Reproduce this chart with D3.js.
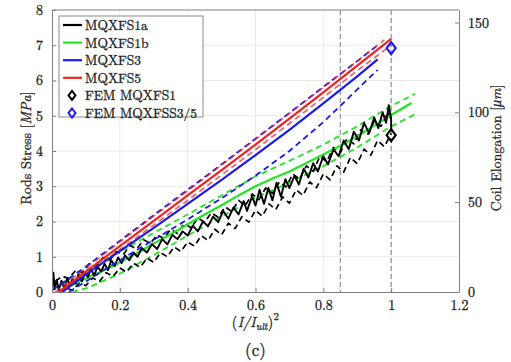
<!DOCTYPE html>
<html>
<head>
<meta charset="utf-8">
<script src="https://cdn.jsdelivr.net/npm/d3@7"></script>
<style>
  html, body { margin: 0; padding: 0; background: #fff; }
  svg { display: block; }
</style>
</head>
<body>
<svg id="chart" width="511" height="362"></svg>
<script>
// Axis ticks
const xTicks = [0, 0.2, 0.4, 0.6, 0.8, 1, 1.2];
const yTicks = [0, 1, 2, 3, 4, 5, 6, 7, 8];
const y2Ticks = [0, 50, 100, 150];
const refLines = [0.85, 1.0];

// Curves: [ (I/Iult)^2 , rod stress MPa ]
const s1aMean = [[0.000,0.05],[0.004,0.55],[0.008,0.08],[0.014,0.35],[0.02,0.05],[0.028,0.32],[0.036,0.1],[0.045,0.4],[0.052,0.18],[0.06,0.36],[0.07,0.24],[0.078,0.5],[0.088,0.3],[0.098,0.55],[0.106,0.42],[0.115,0.66],[0.124,0.46],[0.134,0.72],[0.145,0.58],[0.155,0.8],[0.165,0.62],[0.175,0.9],[0.185,0.74],[0.195,0.98],[0.205,0.82],[0.215,1.04],[0.228,0.9],[0.24,1.12],[0.252,1.0],[0.265,1.24],[0.28,1.12],[0.295,1.36],[0.31,1.22],[0.325,1.5],[0.34,1.35],[0.355,1.62],[0.37,1.5],[0.385,1.72],[0.40,1.6],[0.415,1.88],[0.43,1.72],[0.445,2.0],[0.46,1.86],[0.475,2.14],[0.49,1.98],[0.505,2.3],[0.52,2.08],[0.535,2.4],[0.55,2.2],[0.565,2.58],[0.575,2.3],[0.59,2.72],[0.6,2.45],[0.612,2.9],[0.625,2.5],[0.638,2.95],[0.65,2.6],[0.662,3.1],[0.675,2.7],[0.688,3.2],[0.7,2.95],[0.715,3.3],[0.728,3.05],[0.742,3.5],[0.756,3.25],[0.77,3.65],[0.784,3.42],[0.8,3.85],[0.814,3.62],[0.83,4.05],[0.845,3.85],[0.86,4.3],[0.875,4.05],[0.89,4.55],[0.905,4.3],[0.92,4.8],[0.935,4.5],[0.95,4.95],[0.962,4.65],[0.975,5.1],[0.985,4.8],[0.993,5.3],[1.0,4.9],[1.0,4.55]];
const s1aUpper = [[0.01,0.3],[0.03,0.45],[0.05,0.38],[0.07,0.62],[0.09,0.55],[0.11,0.8],[0.13,0.72],[0.15,0.98],[0.17,0.9],[0.19,1.15],[0.21,1.06],[0.23,1.32],[0.25,1.22],[0.27,1.48],[0.29,1.38],[0.31,1.62],[0.33,1.52],[0.35,1.78],[0.37,1.66],[0.39,1.95],[0.41,1.82],[0.43,2.1],[0.45,1.98],[0.47,2.25],[0.49,2.12],[0.51,2.42],[0.53,2.28],[0.55,2.6],[0.57,2.45],[0.59,2.78],[0.61,2.62],[0.63,2.95],[0.65,2.8],[0.67,3.12],[0.69,2.98],[0.71,3.35],[0.73,3.2],[0.75,3.58],[0.77,3.42],[0.79,3.85],[0.81,3.7],[0.83,4.1],[0.85,3.95],[0.87,4.35],[0.89,4.2],[0.91,4.6],[0.93,4.45],[0.95,4.85],[0.97,4.7],[0.99,5.1],[1.0,4.9]];
const s1aLower = [[0.02,0.0],[0.04,0.12],[0.06,0.05],[0.08,0.25],[0.1,0.18],[0.12,0.4],[0.14,0.3],[0.16,0.55],[0.18,0.44],[0.2,0.68],[0.22,0.56],[0.24,0.82],[0.26,0.7],[0.28,0.96],[0.3,0.84],[0.32,1.12],[0.34,1.0],[0.36,1.28],[0.38,1.15],[0.4,1.42],[0.42,1.3],[0.44,1.6],[0.46,1.46],[0.48,1.78],[0.5,1.62],[0.52,1.95],[0.54,1.8],[0.56,2.14],[0.58,1.98],[0.6,2.32],[0.62,2.15],[0.64,2.5],[0.66,2.34],[0.68,2.7],[0.7,2.52],[0.72,2.9],[0.74,2.74],[0.76,3.12],[0.78,2.96],[0.8,3.35],[0.82,3.18],[0.84,3.58],[0.86,3.4],[0.88,3.82],[0.9,3.64],[0.92,4.05],[0.94,3.88],[0.96,4.3],[0.98,4.12],[1.0,4.5]];

const s1bMean = [[0.02,0.0],[0.04,0.12],[0.06,0.2],[0.08,0.3],[0.10,0.38],[0.12,0.48],[0.14,0.55],[0.16,0.66],[0.18,0.73],[0.20,0.84],[0.25,1.1],[0.30,1.38],[0.35,1.64],[0.40,1.92],[0.45,2.2],[0.50,2.46],[0.55,2.74],[0.60,3.0],[0.65,3.22],[0.70,3.42],[0.75,3.66],[0.80,3.9],[0.85,4.15],[0.90,4.42],[0.95,4.72],[1.00,5.02],[1.06,5.36]];
const s1bUpper = [[0.0,0.05],[0.05,0.35],[0.1,0.62],[0.2,1.15],[0.3,1.68],[0.4,2.2],[0.5,2.74],[0.6,3.28],[0.7,3.72],[0.8,4.18],[0.9,4.7],[1.0,5.28],[1.07,5.62]];
const s1bLower = [[0.06,0.0],[0.1,0.1],[0.2,0.52],[0.3,1.05],[0.4,1.6],[0.5,2.14],[0.6,2.68],[0.7,3.1],[0.8,3.57],[0.9,4.1],[1.0,4.7],[1.07,5.04]];

const s3Mean = [[0.03,0.0],[0.1,0.5],[0.2,1.16],[0.3,1.82],[0.4,2.5],[0.5,3.18],[0.6,3.88],[0.7,4.6],[0.8,5.35],[0.9,6.12],[0.96,6.6]];
const s3Upper = [[0.0,0.05],[0.1,0.72],[0.2,1.45],[0.3,2.18],[0.4,2.9],[0.5,3.62],[0.6,4.35],[0.7,5.08],[0.8,5.82],[0.9,6.55],[0.96,7.0]];
const s3Lower = [[0.05,0.0],[0.1,0.3],[0.2,0.9],[0.3,1.48],[0.4,2.06],[0.5,2.66],[0.6,3.3],[0.7,4.0],[0.8,4.82],[0.85,5.28],[0.9,5.75],[0.96,6.3]];

const s5Mean = [[0.02,0.0],[0.1,0.58],[0.2,1.3],[0.3,2.02],[0.4,2.74],[0.5,3.46],[0.6,4.18],[0.7,4.92],[0.8,5.66],[0.9,6.42],[1.0,7.18]];
const s5Upper = [[0.01,0.0],[0.1,0.68],[0.2,1.42],[0.3,2.15],[0.4,2.87],[0.5,3.6],[0.6,4.33],[0.7,5.07],[0.8,5.8],[0.9,6.55],[0.98,7.15]];
const s5Lower = [[0.03,0.0],[0.1,0.5],[0.2,1.2],[0.3,1.9],[0.4,2.6],[0.5,3.32],[0.6,4.04],[0.7,4.78],[0.8,5.52],[0.9,6.28],[1.0,7.0]];

// FEM points
const femS1 = [[1.0, 4.45]];
const femS35 = [[1.0, 6.92]];

const legendNames = ["MQXFS1a", "MQXFS1b", "MQXFS3", "MQXFS5", "FEM MQXFS1", "FEM MQXFSS3/5"];

const C = { black: "#000000", green: "#22e622", blue: "#1a1af0", red: "#ee2222" };
const FONT = '"Latin Modern Roman", "Liberation Serif", serif';
const TXT = "#222";

const W = 511, H = 362;
const m = { left: 52, right: 52, top: 10, bottom: 70 };
const pw = W - m.left - m.right, ph = H - m.top - m.bottom;

const x = d3.scaleLinear().domain([0, 1.2]).range([m.left, m.left + pw]);
const y = d3.scaleLinear().domain([0, 8]).range([m.top + ph, m.top]);
const y2 = d3.scaleLinear().domain([0, 157]).range([m.top + ph, m.top]);

const svg = d3.select("#chart");
const axisColor = "#808080";

// slightly heavier glyphs for the thin serif face
const textStyle = (sel, size) => sel.attr("font-family", FONT).attr("font-size", size)
  .attr("fill", TXT).attr("stroke", TXT).attr("stroke-width", 0.3);

svg.append("clipPath").attr("id", "plotClip").append("rect")
  .attr("x", m.left).attr("y", m.top).attr("width", pw).attr("height", ph);

// grid
const grid = svg.append("g");
grid.selectAll(".gx").data(xTicks.slice(1, -1)).enter().append("line")
  .attr("x1", d => x(d)).attr("x2", d => x(d)).attr("y1", m.top).attr("y2", m.top + ph)
  .attr("stroke", "#e4e4e4").attr("stroke-width", 0.8);
grid.selectAll(".gy").data(yTicks.slice(1, -1)).enter().append("line")
  .attr("y1", d => y(d)).attr("y2", d => y(d)).attr("x1", m.left).attr("x2", m.left + pw)
  .attr("stroke", "#e4e4e4").attr("stroke-width", 0.8);

// reference lines
svg.append("g").selectAll("line").data(refLines).enter().append("line")
  .attr("x1", d => x(d)).attr("x2", d => x(d)).attr("y1", m.top).attr("y2", m.top + ph)
  .attr("stroke", "#8a8a8a").attr("stroke-width", 1.1).attr("stroke-dasharray", "5,3");

// curves
const line = d3.line().x(d => x(d[0])).y(d => y(d[1]));
const plot = svg.append("g").attr("clip-path", "url(#plotClip)");
const dash = "6,4";
const curves = [
  { d: s1bUpper, c: C.green, w: 1.8, dash: dash },
  { d: s1bLower, c: C.green, w: 1.8, dash: dash },
  { d: s1aUpper, c: C.black, w: 1.7, dash: dash },
  { d: s1aLower, c: C.black, w: 1.7, dash: dash },
  { d: s1bMean, c: C.green, w: 2.2 },
  { d: s1aMean, c: C.black, w: 1.9 },
  { d: s3Upper, c: C.blue, w: 1.8, dash: dash },
  { d: s3Lower, c: C.blue, w: 1.8, dash: dash },
  { d: s5Upper, c: C.red, w: 1.6, dash: dash, op: 0.75 },
  { d: s5Lower, c: C.red, w: 1.6, dash: dash, op: 0.75 },
  { d: s3Mean, c: C.blue, w: 2.2 },
  { d: s5Mean, c: C.red, w: 2.2 }
];
curves.forEach(k => {
  plot.append("path").datum(k.d).attr("d", line)
    .attr("fill", "none").attr("stroke", k.c).attr("stroke-width", k.w)
    .attr("stroke-linejoin", "round")
    .attr("stroke-opacity", k.op || 1)
    .attr("stroke-dasharray", k.dash || null);
});

// FEM diamonds
const diamond = (cx, cy) => `M${cx},${cy - 6}L${cx + 4.5},${cy}L${cx},${cy + 6}L${cx - 4.5},${cy}Z`;
[[femS1, C.black], [femS35, C.blue]].forEach(([pts, c]) => {
  svg.append("g").selectAll("path").data(pts).enter().append("path")
    .attr("d", d => diamond(x(d[0]), y(d[1])))
    .attr("fill", "none").attr("stroke", c).attr("stroke-width", 2.2);
});

// frame and axes
const axes = svg.append("g");
axes.append("line").attr("x1", m.left).attr("x2", m.left + pw).attr("y1", m.top).attr("y2", m.top).attr("stroke", axisColor);
const xAxis = d3.axisBottom(x).tickValues(xTicks).tickFormat(d3.format("~g")).tickSizeInner(-4).tickSizeOuter(0).tickPadding(8);
const yAxis = d3.axisLeft(y).tickValues(yTicks).tickSizeInner(-4).tickSizeOuter(0).tickPadding(9);
const y2Axis = d3.axisRight(y2).tickValues(y2Ticks).tickSizeInner(-4).tickSizeOuter(0).tickPadding(9);
const gx = axes.append("g").attr("transform", `translate(0,${m.top + ph})`).call(xAxis);
const gy = axes.append("g").attr("transform", `translate(${m.left},0)`).call(yAxis);
const gy2 = axes.append("g").attr("transform", `translate(${m.left + pw},0)`).call(y2Axis);
[gx, gy, gy2].forEach(g => {
  g.attr("font-family", FONT).attr("font-size", 14);
  g.select(".domain").attr("stroke", axisColor);
  g.selectAll(".tick line").attr("stroke", axisColor);
  textStyle(g.selectAll(".tick text"), 14);
});

// axis titles
textStyle(svg.append("text"), 14).attr("text-anchor", "middle")
  .attr("transform", `translate(31,${m.top + ph / 2 - 3}) rotate(-90)`)
  .html('Rods Stress [<tspan font-style="italic">MPa</tspan>]');
textStyle(svg.append("text"), 14).attr("text-anchor", "middle")
  .attr("transform", `translate(501,${m.top + ph / 2 - 3}) rotate(-90)`)
  .html('Coil Elongation [<tspan font-style="italic">μm</tspan>]');

// x title (I/I_ult)^2 laid out piece by piece
const xTitleParts = [
  { t: "(", size: 14, italic: false, dy: 0 },
  { t: "I/I", size: 14, italic: true, dy: 0 },
  { t: "ult", size: 10, italic: true, dy: 3 },
  { t: ")", size: 14, italic: false, dy: 0 },
  { t: "2", size: 10, italic: false, dy: -7 }
];
const xt = svg.append("g");
let cursor = 0;
xTitleParts.forEach(p => {
  const el = textStyle(xt.append("text"), p.size)
    .attr("font-style", p.italic ? "italic" : "normal")
    .attr("y", 327 + p.dy).text(p.t);
  el.attr("x", cursor);
  cursor += el.node().getComputedTextLength() + 0.5;
});
xt.attr("transform", `translate(${m.left + pw / 2 - cursor / 2},0)`);

textStyle(svg.append("text"), 17).attr("text-anchor", "middle")
  .attr("x", m.left + pw / 2).attr("y", 356).text("(c)");

// legend
const lg = svg.append("g").attr("transform", "translate(59,16)");
lg.append("rect").attr("width", 144).attr("height", 101)
  .attr("fill", "#fff").attr("stroke", "#8a8a8a").attr("stroke-width", 1);
const legendStyles = [
  { c: C.black, type: "line" }, { c: C.green, type: "line" },
  { c: C.blue, type: "line" }, { c: C.red, type: "line" },
  { c: C.black, type: "diamond" }, { c: C.blue, type: "diamond" }
];
legendNames.forEach((name, i) => {
  const cy = 9 + i * 17.6;
  const st = legendStyles[i];
  if (st.type === "line") {
    lg.append("line").attr("x1", 4).attr("x2", 23).attr("y1", cy).attr("y2", cy)
      .attr("stroke", st.c).attr("stroke-width", 2.2);
  } else {
    lg.append("path").attr("d", `M13,${cy - 4.5}L16.5,${cy}L13,${cy + 4.5}L9.5,${cy}Z`)
      .attr("fill", "none").attr("stroke", st.c).attr("stroke-width", 2);
  }
  textStyle(lg.append("text"), 13.5).attr("x", 26).attr("y", cy + 5).text(name);
});
</script>
</body>
</html>
